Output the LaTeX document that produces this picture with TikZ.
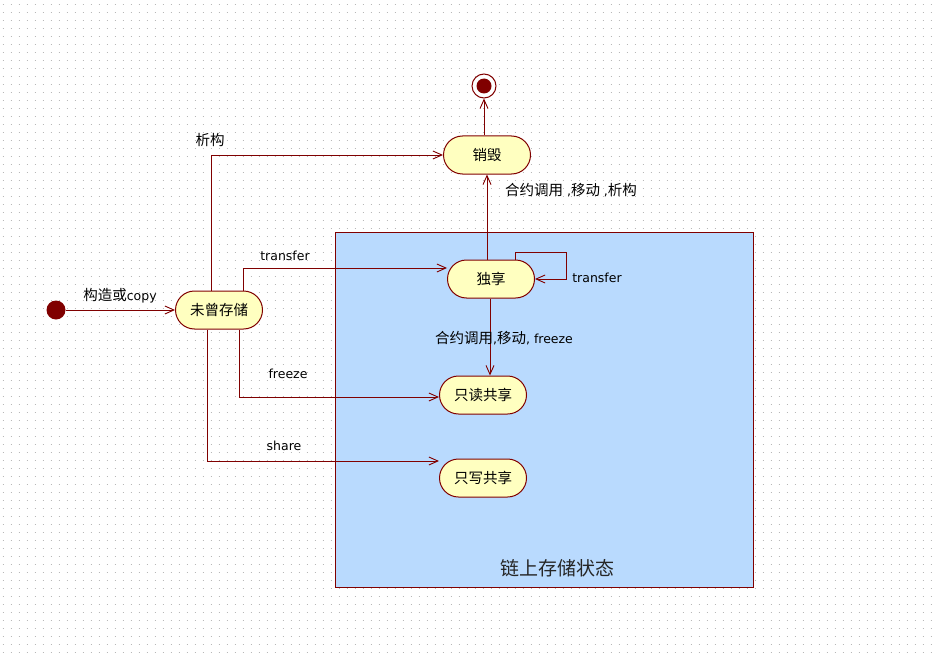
\documentclass[tikz,border=0pt]{standalone}
\usepackage{fontspec}
\setmainfont{DejaVu Sans}
\newfontfamily\cjkfont{Noto Sans CJK SC}
\usetikzlibrary{arrows.meta,calc}
\definecolor{dred}{HTML}{800000}
\definecolor{nodey}{HTML}{FFFFC0}
\definecolor{boxblue}{HTML}{B9DAFE}
\definecolor{dotg}{HTML}{B8B8B8}
\newcommand\zh[1]{{\cjkfont\fontsize{14.5}{16}\selectfont #1}}
\tikzset{
  statebox/.style={draw=dred,fill=nodey,line width=1pt,rounded corners=19pt,
    minimum width=87pt,minimum height=38pt,inner sep=0pt,
    font=\cjkfont\fontsize{14.5}{16}\selectfont},
  arr/.style={draw=dred,line width=0.9pt,-{Straight Barb[length=9pt,width=8pt]}},
  lab/.style={inner sep=0pt,font=\fontsize{12.5}{14}\selectfont},
}
\begin{document}
\begin{tikzpicture}[x=1pt,y=-1pt]
\useasboundingbox (0,0) rectangle (933,655);
\fill[white] (0,0) rectangle (933,655);
\foreach \y in {4.5,12.5,...,652.5}
  \draw[dotg,line width=1pt,dash pattern=on 1pt off 7pt] (2.5,\y) -- (933,\y);
% composite state region
\draw[dred,fill=boxblue,line width=1pt] (335.5,232.5) rectangle (753.5,587.5);
\node[inner sep=0pt,font=\cjkfont\fontsize{19}{21}\selectfont,text=black!85] (title) at (557,568) {链上存储状态};
% states
\node[statebox] (d) at (487,155) {销毁};
\node[statebox] (u) at (491,279) {独享};
\node[statebox] (w) at (219,310) {未曾存储};
\node[statebox] (r) at (483,395) {只读共享};
\node[statebox] (s) at (483,478) {只写共享};
\node[circle,fill=dred,minimum size=19pt,inner sep=0pt] (init) at (56,310) {};
\node[circle,draw=dred,fill=white,line width=1pt,minimum size=24pt,inner sep=0pt] (fin) at (484,86) {};
\node[circle,fill=dred,minimum size=15pt,inner sep=0pt] (finc) at (fin) {};
\coordinate (loopc) at (566,252);
% transitions
\draw[arr] (init.east) -- (w.west);
\draw[arr] ([xshift=-8pt]w.north) |- (d.west);
\draw[arr] ([xshift=24pt]w.north) |- ([yshift=11pt]u.west);
\draw[arr] ([xshift=20pt]w.south) |- ([yshift=-2pt]r.west);
\draw[arr] ([xshift=-12pt]w.south) |- ([yshift=17pt]s.west);
\draw[arr] (d.south |- u.north) -- (d.south);
\draw[arr] ([xshift=-1pt]u.south) -- ([xshift=-1pt]u.south |- r.north);
\draw[arr] ([xshift=24pt]u.north) |- (loopc) |- (u.east);
\draw[arr] (fin |- d.north) -- (fin.south);
% labels
\node[lab] (l1) at (120,296) {\zh{构造或}copy};
\node[lab] (l2) at (210,140) {\zh{析构}};
\node[lab] (l3) at (285,256) {transfer};
\node[lab] (l4) at (288,374) {freeze};
\node[lab] (l5) at (284,446) {share};
\node[lab] (l6) at (571,190) {\zh{合约调用} ,\zh{移动} ,\zh{析构}};
\node[lab] (l7) at (504,338) {\zh{合约调用},\zh{移动}, freeze};
\node[lab] (l8) at (597,278) {transfer};
\end{tikzpicture}
\end{document}
